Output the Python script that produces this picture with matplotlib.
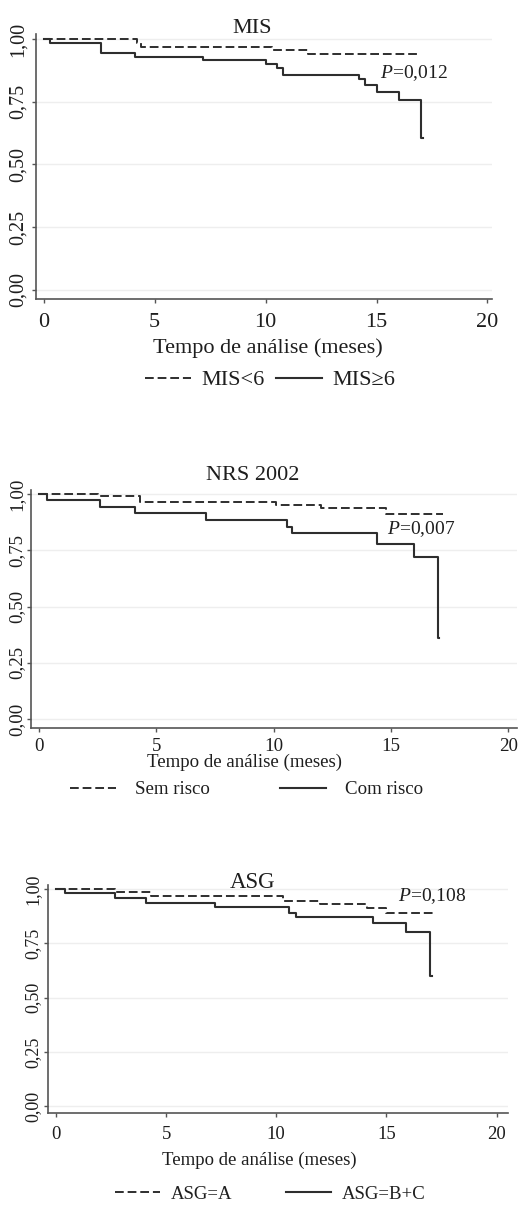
import matplotlib
matplotlib.use("Agg")
import matplotlib.pyplot as plt

plt.rcParams['font.family'] = ['Liberation Serif', 'DejaVu Serif']
plt.rcParams['mathtext.fontset'] = 'custom'
plt.rcParams['mathtext.it'] = 'Liberation Serif:italic'
plt.rcParams['mathtext.rm'] = 'Liberation Serif'

# Curvas de Kaplan-Meier (tempo em meses, sobrevida)
mis_baixo_t = [0, 4.2, 4.4, 10.3, 11.9, 16.9]
mis_baixo_s = [1.0, 0.985, 0.970, 0.956, 0.940, 0.940]
mis_alto_t = [0, 0.3, 2.6, 4.1, 7.2, 10.0, 10.5, 10.8, 14.2, 14.5, 15.0, 16.0, 17.0, 17.1]
mis_alto_s = [1.0, 0.985, 0.945, 0.930, 0.915, 0.899, 0.885, 0.858, 0.842, 0.817, 0.790, 0.757, 0.607, 0.607]

nrs_sem_t = [0, 2.5, 4.3, 10.1, 12.0, 14.8, 17.2]
nrs_sem_s = [1.0, 0.993, 0.967, 0.952, 0.937, 0.912, 0.912]
nrs_com_t = [0, 0.35, 2.6, 4.1, 7.1, 10.55, 10.8, 14.4, 16.0, 17.0, 17.05]
nrs_com_s = [1.0, 0.974, 0.945, 0.918, 0.886, 0.856, 0.826, 0.779, 0.720, 0.359, 0.359]

asg_a_t = [0, 2.7, 4.3, 10.3, 12.0, 14.1, 15.0, 17.2]
asg_a_s = [1.0, 0.988, 0.970, 0.944, 0.930, 0.911, 0.891, 0.891]
asg_bc_t = [0, 0.4, 2.7, 4.1, 7.2, 10.6, 10.9, 14.4, 15.9, 17.0, 17.05]
asg_bc_s = [1.0, 0.983, 0.957, 0.937, 0.916, 0.891, 0.870, 0.845, 0.803, 0.600, 0.600]

titulos = ["MIS", "NRS 2002", "ASG"]
legendas = [["MIS<6", "MIS≥6"], ["Sem risco", "Com risco"], ["ASG=A", "ASG=B+C"]]
valores_p = ["0,012", "0,007", "0,108"]
xticks = [0, 5, 10, 15, 20]
yticks = [0.0, 0.25, 0.5, 0.75, 1.0]
ytick_labels = ["0,00", "0,25", "0,50", "0,75", "1,00"]

COR = '#2e2e2e'
TEXTO = '#1e1e1e'
TRACO = (0, (4.5, 2.0))


def painel(fig, rect, xlim, ylim, curvas, titulo, legenda, p, cfg):
    """Desenha um painel de sobrevida no estilo do Stata"""
    ax = fig.add_axes(rect)
    (t1, s1), (t2, s2) = curvas
    ax.step(t1, s1, where='post', color=COR, lw=1.4, linestyle=TRACO, label=legenda[0])
    ax.step(t2, s2, where='post', color=COR, lw=1.5, label=legenda[1])

    ax.set_xlim(xlim)
    ax.set_ylim(ylim)
    ax.set_xticks(xticks)
    ax.set_yticks(yticks)
    ax.set_yticklabels(ytick_labels, rotation=90, va='center')
    ax.tick_params(axis='x', length=3, width=1, colors='#555555', pad=cfg['xpad'],
                   labelsize=cfg['fs'], labelcolor=TEXTO)
    ax.tick_params(axis='y', length=3, width=1, colors='#555555', pad=cfg['ypad'],
                   labelsize=cfg['yfs'], labelcolor=TEXTO)
    for lado in ['top', 'right']:
        ax.spines[lado].set_visible(False)
    for lado in ['left', 'bottom']:
        ax.spines[lado].set_color('#555555')
        ax.spines[lado].set_linewidth(1.2)
    ax.grid(axis='y', color='#eeeeee', lw=1)
    ax.set_axisbelow(True)

    ax.text(cfg['tx'], cfg['ty'], titulo, transform=ax.transAxes, ha='center', va='center',
            fontsize=cfg['tfs'], color=TEXTO)
    ax.text(cfg['px'], cfg['py'], r"$P$=" + p, ha='left', va='center', fontsize=14, color=TEXTO)

    ax.set_xlabel("Tempo de análise (meses)", fontsize=cfg['fs'], color=TEXTO)
    ax.xaxis.set_label_coords(cfg['lx'], cfg['ly'])
    ax.xaxis.label.set_va('center')

    leg = ax.legend(ncol=2, loc='center', bbox_to_anchor=(cfg['gx'], cfg['gy']), frameon=False,
                    fontsize=cfg['fs'], handlelength=cfg['hl'], handletextpad=cfg['htp'],
                    columnspacing=cfg['cs'], borderpad=0, borderaxespad=0)
    for txt in leg.get_texts():
        txt.set_color(TEXTO)
    return ax


fig = plt.figure(figsize=(5.21, 12.06), dpi=100)

painel(fig, [0.0691, 0.7521, 0.875, 0.2197], (-0.35, 20.2), (-0.036, 1.02),
       [(mis_baixo_t, mis_baixo_s), (mis_alto_t, mis_alto_s)], titulos[0], legendas[0], valores_p[0],
       dict(fs=16, yfs=14.5, tfs=16, xpad=7, ypad=3, tx=0.474, ty=1.019, px=15.16, py=0.865,
            lx=0.509, ly=-0.185, gx=0.513, gy=-0.306, hl=2.1, htp=0.45, cs=0.5))

painel(fig, [0.0589, 0.3964, 0.9334, 0.1975], (-0.354, 20.37), (-0.04, 1.02),
       [(nrs_sem_t, nrs_sem_s), (nrs_com_t, nrs_com_s)], titulos[1], legendas[1], valores_p[1],
       dict(fs=13.6, yfs=13.6, tfs=16, xpad=4, ypad=1, tx=0.457, ty=1.058, px=14.83, py=0.846,
            lx=0.44, ly=-0.143, gx=0.444, gy=-0.26, hl=2.4, htp=1.0, cs=3.75))

painel(fig, [0.0927, 0.0771, 0.8823, 0.1893], (-0.35, 20.52), (-0.032, 1.02),
       [(asg_a_t, asg_a_s), (asg_bc_t, asg_bc_s)], titulos[2], legendas[2], valores_p[2],
       dict(fs=13.5, yfs=13, tfs=16.5, xpad=6, ypad=2, tx=0.445, ty=1.008, px=15.52, py=0.968,
            lx=0.46, ly=-0.206, gx=0.483, gy=-0.355, hl=2.4, htp=0.55, cs=2.9))

fig.savefig("out.png", dpi=100)
